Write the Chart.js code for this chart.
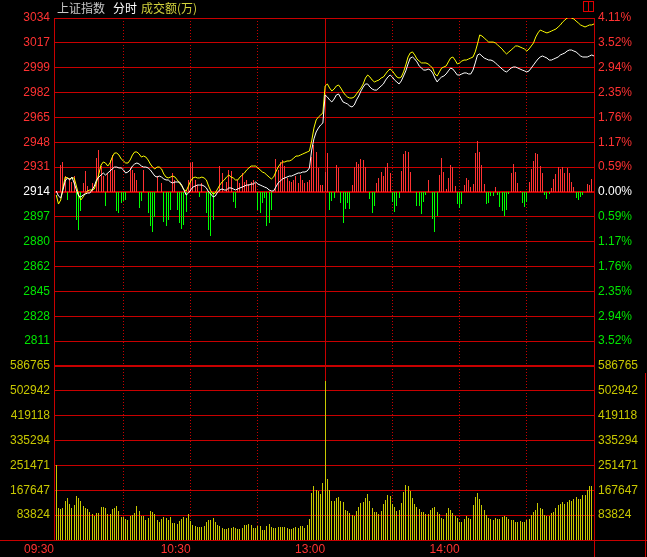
<!DOCTYPE html>
<html>
<head>
<meta charset="utf-8">
<script src="https://cdn.jsdelivr.net/npm/chart.js@4.4.1/dist/chart.umd.min.js"></script>
<style>
  html, body { margin: 0; padding: 0; background: #000; }
  #wrap { width: 647px; height: 557px; }
</style>
</head>
<body>
<div id="wrap"><canvas id="fenshi"></canvas></div>
<script>
// 上证指数 intraday, one point per minute, 0 = 09:30 ... 240 = 15:00
const minuteIndex = Array.from({ length: 241 }, (_, i) => i);

// white line: index price
const indexPrice = [
  2914.7, 2911.2, 2909.9, 2915.4, 2921.6, 2923.7, 2922.3, 2924.3, 2920.2, 2915.4,
  2911.2, 2910.6, 2911.9, 2912.6, 2913.3, 2913.3, 2915.4, 2918.1, 2922.3, 2924.3,
  2925.7, 2927.1, 2925.7, 2927.1, 2928.5, 2929.9, 2931.2, 2931.2, 2930.6, 2930.6,
  2929.2, 2927.1, 2927.8, 2929.2, 2931.9, 2933.3, 2934.0, 2933.3, 2931.9, 2931.2,
  2931.2, 2930.6, 2929.2, 2927.1, 2925.0, 2924.3, 2925.0, 2924.3, 2923.0, 2922.3,
  2922.3, 2920.9, 2920.2, 2920.9, 2920.9, 2920.9, 2918.8, 2915.4, 2911.9, 2913.3,
  2915.4, 2917.4, 2918.1, 2918.8, 2918.8, 2918.8, 2918.1, 2916.8, 2914.0, 2912.6,
  2910.6, 2911.2, 2914.0, 2915.4, 2916.1, 2915.4, 2915.4, 2916.8, 2916.8, 2916.1,
  2915.4, 2916.1, 2916.8, 2917.4, 2918.1, 2918.8, 2918.8, 2919.5, 2919.5, 2920.9,
  2919.5, 2918.8, 2918.1, 2917.4, 2916.8, 2915.4, 2914.7, 2914.7, 2917.4, 2920.2,
  2921.6, 2923.0, 2923.7, 2924.3, 2925.0, 2925.0, 2925.7, 2926.4, 2927.1, 2927.1,
  2927.8, 2927.8, 2928.5, 2930.6, 2943.0, 2950.6, 2955.4, 2958.1, 2960.2, 2961.6,
  2980.9, 2979.5, 2977.5, 2976.1, 2978.1, 2980.9, 2981.6, 2978.8, 2976.1, 2975.4,
  2974.7, 2973.3, 2972.6, 2974.0, 2977.5, 2980.2, 2983.7, 2986.4, 2988.5, 2988.5,
  2986.4, 2985.0, 2984.3, 2984.3, 2985.7, 2987.1, 2988.5, 2991.2, 2993.3, 2994.7,
  2993.3, 2991.2, 2989.9, 2988.5, 2990.6, 2994.0, 2997.5, 3002.3, 3006.4, 3007.1,
  3005.7, 3003.7, 3000.9, 2999.5, 2998.1, 2998.1, 2998.8, 2998.1, 2996.1, 2992.6,
  2989.9, 2991.9, 2993.3, 2994.0, 2995.4, 2997.5, 2999.5, 2998.8, 2996.8, 2994.7,
  2994.7, 2995.4, 2996.1, 2996.1, 2995.4, 2995.4, 2998.1, 3003.0, 3008.5, 3009.2,
  3007.8, 3006.4, 3005.7, 3005.0, 3005.0, 3004.3, 3003.0, 3001.6, 3000.2, 2998.8,
  2997.5, 2996.8, 2998.1, 2999.5, 3000.2, 3000.2, 2999.5, 2998.8, 2998.1, 2997.5,
  2996.8, 2997.5, 2999.5, 3001.6, 3003.7, 3005.7, 3007.1, 3007.8, 3007.1, 3006.4,
  3005.0, 3005.0, 3005.7, 3006.4, 3007.1, 3008.5, 3009.2, 3009.9, 3011.2, 3011.9,
  3011.9, 3011.2, 3010.6, 3009.2, 3007.8, 3007.1, 3007.1, 3007.1, 3007.8, 3008.5,
  3007.8
];

// yellow line: unweighted index
const equalPrice = [
  2911.9, 2905.7, 2908.5, 2916.8, 2924.3, 2923.7, 2923.0, 2923.7, 2923.7, 2918.1,
  2911.9, 2908.5, 2910.6, 2913.3, 2914.7, 2915.4, 2915.4, 2916.1, 2920.9, 2926.4,
  2932.6, 2934.7, 2934.0, 2931.9, 2934.0, 2938.1, 2940.9, 2940.9, 2939.5, 2936.8,
  2935.4, 2934.0, 2934.0, 2936.1, 2939.5, 2941.6, 2941.6, 2940.2, 2938.1, 2938.8,
  2938.1, 2936.1, 2933.3, 2931.2, 2929.9, 2931.2, 2931.2, 2929.9, 2926.4, 2924.3,
  2923.7, 2924.3, 2925.0, 2924.3, 2922.3, 2920.2, 2918.1, 2915.4, 2914.7, 2918.1,
  2921.6, 2923.7, 2924.3, 2923.7, 2923.7, 2924.3, 2923.7, 2922.3, 2918.1, 2914.7,
  2912.6, 2913.3, 2916.1, 2918.8, 2920.9, 2922.3, 2924.3, 2925.7, 2924.3, 2923.7,
  2922.3, 2922.3, 2924.3, 2925.7, 2927.1, 2929.2, 2930.6, 2931.9, 2931.9, 2931.9,
  2930.6, 2929.2, 2927.8, 2927.1, 2925.7, 2924.3, 2923.0, 2924.3, 2927.8, 2931.2,
  2933.3, 2934.7, 2934.7, 2935.4, 2935.4, 2936.1, 2937.4, 2938.8, 2938.8, 2939.5,
  2940.2, 2940.9, 2941.6, 2942.3, 2949.2, 2958.1, 2963.7, 2965.7, 2967.1, 2968.5,
  2987.1, 2988.5, 2985.7, 2983.7, 2985.0, 2987.1, 2987.8, 2985.7, 2983.0, 2980.9,
  2979.5, 2978.8, 2978.8, 2979.5, 2981.6, 2983.7, 2985.7, 2988.5, 2992.6, 2994.7,
  2993.3, 2991.2, 2989.9, 2990.6, 2991.2, 2992.6, 2993.3, 2995.4, 2997.5, 2998.8,
  2997.5, 2995.4, 2993.3, 2992.6, 2993.3, 2996.8, 3001.6, 3007.1, 3009.9, 3010.6,
  3008.5, 3005.7, 3004.3, 3003.0, 3003.0, 3003.0, 3002.3, 3000.9, 2999.5, 2995.4,
  2994.0, 2996.8, 2999.5, 3000.2, 3000.9, 3003.7, 3006.4, 3007.1, 3005.0, 3002.3,
  3003.0, 3004.3, 3005.0, 3005.0, 3005.7, 3006.4, 3007.1, 3010.6, 3016.1, 3022.3,
  3021.6, 3020.2, 3018.8, 3017.4, 3017.4, 3017.4, 3016.8, 3015.4, 3014.0, 3012.6,
  3010.6, 3009.2, 3010.6, 3011.9, 3013.3, 3014.7, 3014.7, 3014.0, 3013.3, 3012.6,
  3011.2, 3012.6, 3014.7, 3016.8, 3020.9, 3023.7, 3025.7, 3025.0, 3024.3, 3023.7,
  3024.3, 3025.0, 3025.7, 3026.4, 3027.8, 3029.2, 3031.2, 3032.6, 3034.0, 3034.7,
  3034.0, 3033.3, 3031.9, 3030.6, 3029.2, 3028.5, 3027.8, 3028.5, 3029.2, 3029.2,
  3029.9
];

// 成交额 per minute (万)
const turnover = [
  252900, 107900, 104500, 107900, 131500, 141600, 121400, 107900, 118000, 148400,
  141600, 131500, 114600, 107900, 104500, 94400, 87700, 80900, 91000, 91000,
  111300, 111300, 107900, 87700, 87700, 104500, 107900, 114600, 97800, 77600,
  77600, 70800, 67400, 80900, 84300, 91000, 114600, 97800, 80900, 80900,
  67400, 74200, 97800, 94400, 87700, 67400, 60700, 70800, 77600, 74200,
  67400, 77600, 57300, 57300, 54000, 64100, 70800, 77600, 74200, 87700,
  64100, 50600, 47200, 43800, 43800, 43800, 47200, 60700, 67400, 67400,
  74200, 60700, 50600, 47200, 40500, 37100, 37100, 40500, 40500, 43800,
  40500, 37100, 37100, 40500, 50600, 50600, 54000, 50600, 40500, 40500,
  47200, 47200, 33700, 33700, 47200, 54000, 43800, 40500, 40500, 43800,
  43800, 43800, 43800, 40500, 37100, 37100, 40500, 43800, 40500, 47200,
  47200, 40500, 50600, 70800, 158500, 182100, 168600, 165200, 155100, 192200,
  536100, 205700, 168600, 131500, 131500, 141600, 145000, 131500, 128100, 101200,
  97800, 91000, 84300, 80900, 97800, 111300, 124800, 128100, 141600, 155100,
  131500, 107900, 94400, 94400, 87700, 97800, 121400, 134900, 151700, 148400,
  121400, 111300, 97800, 101200, 124800, 161900, 185500, 182100, 165200, 141600,
  121400, 111300, 104500, 94400, 94400, 87700, 87700, 101200, 107900, 111300,
  94400, 87700, 74200, 70800, 91000, 107900, 101200, 91000, 80900, 74200,
  60700, 60700, 70800, 80900, 74200, 70800, 118000, 145000, 158500, 138300,
  118000, 101200, 84300, 74200, 70800, 67400, 74200, 70800, 70800, 77600,
  80900, 77600, 70800, 67400, 67400, 60700, 60700, 64100, 60700, 60700,
  67400, 70800, 84300, 94400, 101200, 124800, 107900, 104500, 84300, 80900,
  80900, 91000, 94400, 107900, 118000, 121400, 128100, 121400, 128100, 134900,
  131500, 138300, 145000, 138300, 138300, 151700, 151700, 168600, 182100, 182100,
  225900
];

// red / green strength bars drawn from the previous close line
const forceMinutes = [
  2, 3, 4, 5, 6, 7, 8, 9, 10, 11, 12, 13, 14, 16, 18, 19, 20, 21, 22, 23,
  24, 25, 26, 27, 28, 29, 30, 31, 33, 34, 35, 36, 37, 38, 39, 41, 42, 43, 44, 45,
  47, 48, 49, 50, 51, 52, 53, 54, 55, 56, 57, 58, 59, 60, 61, 62, 63, 64, 65, 67,
  68, 69, 70, 73, 74, 76, 77, 78, 79, 80, 81, 82, 83, 84, 85, 86, 87, 88, 89, 90,
  91, 92, 93, 94, 95, 96, 98, 99, 100, 101, 102, 103, 104, 105, 106, 107, 108, 109, 110, 111,
  112, 113, 114, 115, 116, 117, 118, 119, 120, 121, 122, 123, 124, 125, 126, 127, 128, 129, 130, 131,
  132, 133, 134, 135, 136, 137, 138, 140, 141, 142, 143, 144, 145, 146, 147, 148, 149, 150, 151, 152,
  153, 154, 155, 156, 157, 158, 161, 162, 163, 164, 165, 166, 168, 169, 170, 171, 172, 173, 174, 175,
  176, 177, 178, 179, 180, 181, 182, 183, 184, 185, 186, 187, 188, 189, 190, 191, 192, 193, 194, 195,
  196, 197, 198, 199, 200, 201, 202, 203, 204, 205, 206, 207, 208, 209, 210, 211, 212, 213, 214, 215,
  216, 217, 218, 219, 220, 221, 222, 223, 224, 225, 226, 227, 228, 229, 230, 231, 232, 233, 234, 235,
  237, 238, 239, 240
];
const forceValues = [
  27, 30, 16, -8, 14, 10, 16, -28, -38, -19, 9, 21, 6, 9, 34, 42, 26, 16, -14, 19,
  32, 37, 22, -19, -21, -11, -9, -8, 24, 22, 19, 12, -16, -9, 22, -21, -34, -40, -25, 16,
  9, -30, -34, -28, -18, 19, 12, -18, -31, -37, -33, -20, 12, 29, 30, 12, 7, -5, 9, -21,
  -38, -44, -28, 26, 19, 10, 22, 21, -10, -16, 12, 9, 19, 10, 12, 8, 10, 12, 9, -18,
  -21, -11, -6, -34, -31, -18, 33, 22, 30, 32, 26, 14, 11, 10, 12, 16, 9, 17, 12, 9,
  10, 12, 35, 47, 40, 24, 7, 7, 20, 39, -18, -9, -6, 27, 24, -11, -31, -17, -11, -17,
  7, 25, 30, 28, 33, 32, 25, -7, -21, -14, 9, 14, 20, 16, 25, 29, 19, -10, -20, -14,
  -6, 21, 38, 41, 40, 20, -14, -14, -22, -10, -3, 12, -27, -40, -24, 17, 34, 20, 3, 14,
  27, 25, 6, -12, -16, -12, 7, 14, 12, 5, 8, 39, 51, 40, 27, 8, -12, -11, -4, -4,
  5, -3, -15, -19, -24, -18, -2, 19, 28, 20, 9, 1, -11, -15, -10, 10, 23, 31, 39, 38,
  26, 19, -3, -7, -2, 4, 13, 18, 25, 23, 25, 19, 24, 19, 10, 5, -6, -8, -5, -3,
  8, 7, 13, 18
];

// axis texts
const priceTickLabels = ['3034', '3017', '2999', '2982', '2965', '2948', '2931',
  '2914', '2897', '2880', '2862', '2845', '2828', '2811'];
const pctTickLabels = ['4.11%', '3.52%', '2.94%', '2.35%', '1.76%', '1.17%', '0.59%',
  '0.00%', '0.59%', '1.17%', '1.76%', '2.35%', '2.94%', '3.52%'];
const volTickLabels = ['586765', '502942', '419118', '335294', '251471', '167647', '83824'];
const timeTickMinutes = [-1, 60, 120, 180];
const timeTickLabels = ['09:30', '10:30', '13:00', '14:00'];

// layout of the panels
const PRE_CLOSE = 2914;
const TOP_PRICE = 3034;
const STEP = (TOP_PRICE - PRE_CLOSE) / 7;
const ROWS = 21;
const BOTTOM_PRICE = TOP_PRICE - ROWS * STEP;
const VOL_MAX = 586765 * 3;

const RED = '#ff3232';
const GREEN = '#00e600';
const GRID = '#c80000';
const VOL_YELLOW = '#c8c800';
const FONT = { family: '"Liberation Sans", Arial, sans-serif', size: 12 };

const rowOf = v => Math.round((TOP_PRICE - v) / STEP);
const rowColor = row => {
  if (row >= 14) return VOL_YELLOW;
  if (row < 7) return RED;
  if (row === 7) return '#ffffff';
  return GREEN;
};
const rowTicks = scale => {
  const t = [];
  for (let r = ROWS; r >= 0; r--) t.push({ value: TOP_PRICE - r * STEP });
  scale.ticks = t;
};

// put each 1px bar on a whole pixel column so it stays crisp
const snapBars = {
  id: 'snapBars',
  afterDatasetsUpdate(chart) {
    chart.data.datasets.forEach((ds, i) => {
      const meta = chart.getDatasetMeta(i);
      if (meta.type !== 'bar') return;
      meta.data.forEach(el => { el.x = Math.floor(el.x) + 0.5; });
    });
  }
};

const headerPlugin = {
  id: 'header',
  afterDraw(chart) {
    const c = chart.ctx;
    const a = chart.chartArea;
    c.save();
    // title
    c.font = '12px "Noto Sans CJK SC", sans-serif';
    c.textBaseline = 'middle';
    c.fillStyle = '#c8c8c8';
    c.fillText('上证指数', 57, 8);
    c.fillStyle = '#ffffff';
    c.fillText('分时', 113, 8);
    c.fillStyle = '#d2d23c';
    c.fillText('成交额(万)', 141, 8);
    // frame pieces outside the plot
    c.strokeStyle = GRID;
    c.lineWidth = 1;
    c.beginPath();
    c.moveTo(0, a.bottom + 0.5);
    c.lineTo(chart.width, a.bottom + 0.5);
    c.moveTo(a.right + 0.5, a.bottom);
    c.lineTo(a.right + 0.5, chart.height);
    c.moveTo(chart.width - 1.5, 373);
    c.lineTo(chart.width - 1.5, chart.height);
    c.stroke();
    // small window icon
    c.strokeStyle = '#e00000';
    c.strokeRect(583.5, 1.5, 10, 10);
    c.beginPath();
    c.moveTo(588.5, 1.5);
    c.lineTo(588.5, 11.5);
    c.stroke();
    c.restore();
  }
};

new Chart(document.getElementById('fenshi'), {
  data: {
    labels: minuteIndex,
    datasets: [
      {
        type: 'line', data: indexPrice, yAxisID: 'y', order: 0,
        borderColor: '#ffffff', borderWidth: 1, pointRadius: 0, tension: 0
      },
      {
        type: 'line', data: equalPrice, yAxisID: 'y', order: 0,
        borderColor: '#ffff00', borderWidth: 1, pointRadius: 0, tension: 0
      },
      {
        type: 'bar', yAxisID: 'yForce', order: 1, grouped: false,
        barThickness: 1, inflateAmount: 0,
        data: forceMinutes.map((m, k) => ({ x: m, y: forceValues[k] })),
        backgroundColor: forceValues.map(v => (v >= 0 ? RED : '#00ff00'))
      },
      {
        type: 'bar', data: turnover, yAxisID: 'yVol', order: 1, grouped: false,
        barThickness: 1, inflateAmount: 0, backgroundColor: VOL_YELLOW
      }
    ]
  },
  options: {
    responsive: true,
    maintainAspectRatio: false,
    animation: false,
    events: [],
    layout: { padding: { top: 18, left: 0, right: 0, bottom: 0 } },
    plugins: { legend: { display: false }, tooltip: { enabled: false } },
    scales: {
      x: {
        type: 'linear', min: -1, max: 240, offset: false,
        afterBuildTicks: s => {
          s.ticks = [-1, 30, 60, 90, 120, 150, 180, 210, 240].map(v => ({ value: v }));
        },
        afterFit: s => { s.height = 17; },
        grid: { color: GRID, lineWidth: 1, drawTicks: false, offset: false },
        border: {
          display: false,
          dash: ctx => ([-1, 120, 240].includes(ctx.tick && ctx.tick.value) ? [] : [1, 2])
        },
        ticks: {
          autoSkip: false, maxRotation: 0, align: 'end', padding: 2,
          color: RED, font: FONT,
          callback: v => {
            const k = timeTickMinutes.indexOf(v);
            return k >= 0 ? timeTickLabels[k] : '';
          }
        }
      },
      y: {
        position: 'left', min: BOTTOM_PRICE, max: TOP_PRICE,
        afterBuildTicks: rowTicks,
        afterFit: s => { s.width = 54; },
        grid: {
          color: GRID, drawTicks: false,
          lineWidth: ctx => ([7, 14].includes(rowOf(ctx.tick.value)) ? 2 : 1)
        },
        border: { display: false },
        ticks: {
          padding: 4, font: FONT,
          color: ctx => rowColor(rowOf(ctx.tick.value)),
          callback: v => {
            const r = rowOf(v);
            if (r < 14) return priceTickLabels[r];
            if (r < 21) return volTickLabels[r - 14];
            return '';
          }
        }
      },
      yPct: {
        position: 'right', min: BOTTOM_PRICE, max: TOP_PRICE,
        afterBuildTicks: rowTicks,
        afterFit: s => { s.width = 53; },
        grid: { display: false, drawTicks: false },
        border: { display: false },
        ticks: {
          padding: 4, font: FONT,
          color: ctx => rowColor(rowOf(ctx.tick.value)),
          callback: v => {
            const r = rowOf(v);
            if (r < 14) return pctTickLabels[r];
            if (r < 21) return volTickLabels[r - 14];
            return '';
          }
        }
      },
      yVol: { display: false, min: 0, max: VOL_MAX },
      yForce: { display: false, min: -348, max: 174 }
    }
  },
  plugins: [snapBars, headerPlugin]
});
</script>
</body>
</html>
